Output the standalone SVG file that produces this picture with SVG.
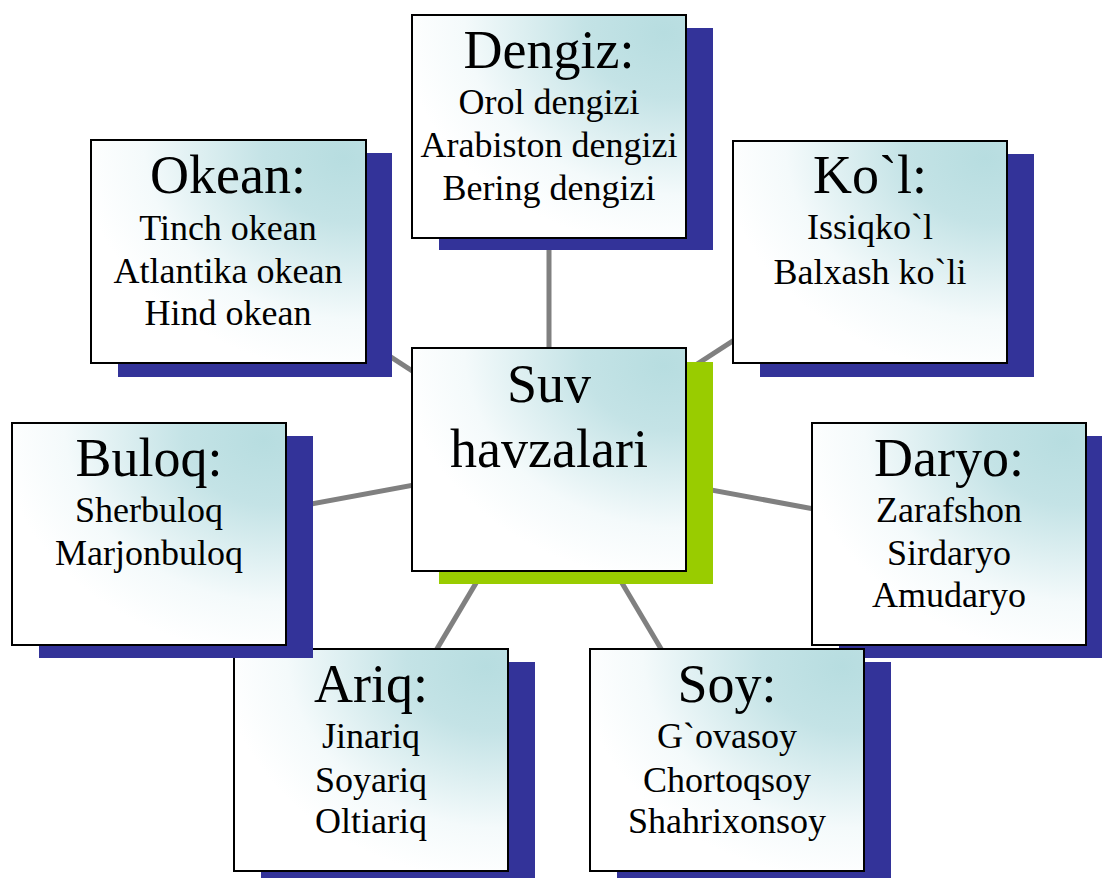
<svg xmlns="http://www.w3.org/2000/svg" width="1102" height="878" viewBox="0 0 1102 878">
  <defs>
    <radialGradient id="g" cx="1" cy="0" r="1.05" fx="0.92" fy="0.08" gradientUnits="objectBoundingBox">
      <stop offset="0" stop-color="#b7dde0"/>
      <stop offset="0.3" stop-color="#c4e3e6"/>
      <stop offset="0.75" stop-color="#f4fafb"/>
      <stop offset="1" stop-color="#ffffff"/>
    </radialGradient>
  </defs>
  <style>
    .box { fill: url(#g); stroke: #000; stroke-width: 2; }
    .sh { fill: #333399; }
    .shg { fill: #99cc00; }
    .t { font-family: "Liberation Serif", "Times New Roman", serif; fill: #000; text-anchor: middle; }
    .h { font-size: 54px; }
    .s { font-size: 36px; }
    .c { stroke: #808080; stroke-width: 5; fill: none; }
  </style>
  <rect width="1102" height="878" fill="#ffffff"/>
  <g id="connectors">
    <line class="c" x1="549" y1="460" x2="549" y2="126"/>
    <line class="c" x1="549" y1="460" x2="228" y2="251"/>
    <line class="c" x1="549" y1="460" x2="870" y2="252"/>
    <line class="c" x1="549" y1="460" x2="149" y2="534"/>
    <line class="c" x1="549" y1="460" x2="949" y2="534"/>
    <line class="c" x1="549" y1="460" x2="371" y2="760"/>
    <line class="c" x1="549" y1="460" x2="727" y2="760"/>
  </g>
  <g id="daryo">
    <rect class="sh" x="839" y="436" width="274" height="222"/>
    <rect class="box" x="812" y="423" width="274" height="222"/>
    <text class="t h" x="949" y="476">Daryo:</text>
    <text class="t s" x="949" y="522">Zarafshon</text>
    <text class="t s" x="949" y="565">Sirdaryo</text>
    <text class="t s" x="949" y="607">Amudaryo</text>
  </g>
  <g id="soy">
    <rect class="sh" x="617" y="662" width="274" height="222"/>
    <rect class="box" x="590" y="649" width="274" height="222"/>
    <text class="t h" x="727" y="702">Soy:</text>
    <text class="t s" x="727" y="748">G`ovasoy</text>
    <text class="t s" x="727" y="792">Chortoqsoy</text>
    <text class="t s" x="727" y="833">Shahrixonsoy</text>
  </g>
  <g id="ariq">
    <rect class="sh" x="261" y="662" width="274" height="222"/>
    <rect class="box" x="234" y="649" width="274" height="222"/>
    <text class="t h" x="371" y="702">Ariq:</text>
    <text class="t s" x="371" y="748">Jinariq</text>
    <text class="t s" x="371" y="792">Soyariq</text>
    <text class="t s" x="371" y="833">Oltiariq</text>
  </g>
  <g id="buloq">
    <rect class="sh" x="39" y="436" width="274" height="222"/>
    <rect class="box" x="12" y="423" width="274" height="222"/>
    <text class="t h" x="149" y="476">Buloq:</text>
    <text class="t s" x="149" y="522">Sherbuloq</text>
    <text class="t s" x="149" y="565">Marjonbuloq</text>
  </g>
  <g id="okean">
    <rect class="sh" x="118" y="153" width="274" height="224"/>
    <rect class="box" x="91" y="140" width="275" height="223"/>
    <text class="t h" x="228" y="193">Okean:</text>
    <text class="t s" x="228" y="240">Tinch okean</text>
    <text class="t s" x="228" y="283">Atlantika okean</text>
    <text class="t s" x="228" y="325">Hind okean</text>
  </g>
  <g id="kol">
    <rect class="sh" x="760" y="154" width="274" height="223"/>
    <rect class="box" x="733" y="141" width="274" height="222"/>
    <text class="t h" x="870" y="193">Ko`l:</text>
    <text class="t s" x="870" y="239">Issiqko`l</text>
    <text class="t s" x="870" y="284">Balxash ko`li</text>
  </g>
  <g id="dengiz">
    <rect class="sh" x="439" y="28" width="274" height="222"/>
    <rect class="box" x="412" y="15" width="274" height="223"/>
    <text class="t h" x="549" y="68">Dengiz:</text>
    <text class="t s" x="549" y="114">Orol dengizi</text>
    <text class="t s" x="549" y="157">Arabiston dengizi</text>
    <text class="t s" x="549" y="200">Bering dengizi</text>
  </g>
  <g id="center">
    <rect class="shg" x="439" y="362" width="274" height="222"/>
    <rect class="box" x="412" y="348" width="274" height="223"/>
    <text class="t h" x="549" y="402">Suv</text>
    <text class="t h" x="549" y="467">havzalari</text>
  </g>
</svg>
